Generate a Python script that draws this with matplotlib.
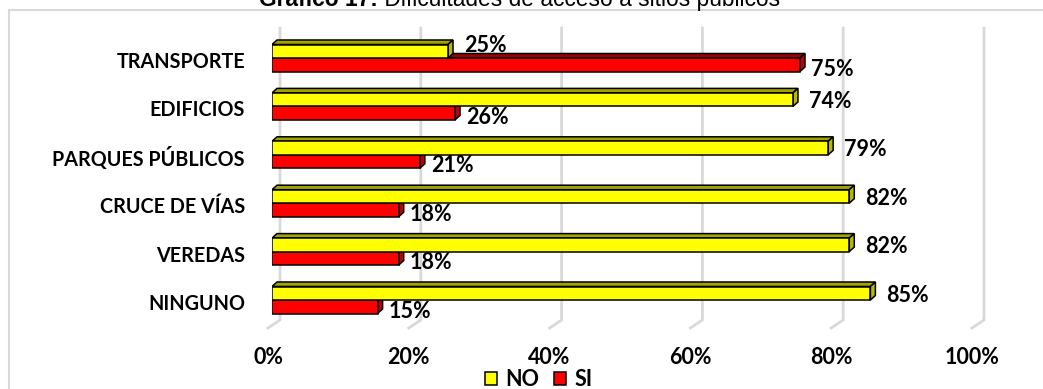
import matplotlib
matplotlib.use('Agg')
import matplotlib.pyplot as plt
from matplotlib.patches import Polygon, Rectangle, Patch

# ---------------- data ----------------
categories = ['TRANSPORTE', 'EDIFICIOS', 'PARQUES PÚBLICOS', 'CRUCE DE VÍAS', 'VEREDAS', 'NINGUNO']
no_vals = [25, 74, 79, 82, 82, 85]
si_vals = [75, 26, 21, 18, 18, 15]
xticks = [0, 20, 40, 60, 80, 100]
xtick_labels = ['0%', '20%', '40%', '60%', '80%', '100%']
series_names = ['NO', 'SI']
title_bold = 'Gráfico 17:'
title_rest = ' Dificultades de acceso a sitios públicos'

# ---------------- style ----------------
W, H, DPI = 1043, 389, 100
YEL, YEL_TOP, YEL_SIDE = '#FFFF00', '#A3A300', '#B8B800'
RED, RED_TOP, RED_SIDE = '#FF0000', '#A00000', '#C00000'
GRID = '#D9D9D9'
LFONT = 'Lato'
FS_CAT = 14.2
FS_NUM = 15.5
EW = 1.1

fig = plt.figure(figsize=(W / DPI, H / DPI), dpi=DPI)
fig.patch.set_facecolor('white')

# front plane of the plot: x 0 -> 272px, 100 -> 976px ; y from 28px to 328px
row_px = 48.4
ax = fig.add_axes([272 / W, 1 - 328 / H, 704 / W, 300 / H])
n = len(categories)
ax.set_xlim(0, 100)
ax.set_ylim(-28 / row_px, (n - 1) + 30 / row_px)
ax.axis('off')

px_x = 100 / 704.0
px_y = 1 / row_px
ylo, yhi = ax.get_ylim()

# chart border
fig.add_artist(Rectangle((9 / W, -0.2), 1.2, 1.2 - 10 / H, transform=fig.transFigure,
                         fill=False, edgecolor=GRID, lw=1.5))

# gridlines (back wall + floor diagonal)
for t in xticks:
    xb = t + 8 * px_x
    ax.plot([xb, xb, t - 4 * px_x], [yhi, -20 * px_y, ylo], color=GRID, lw=2,
            clip_on=False, zorder=0, solid_joinstyle='miter')

h = 13.5 * px_y
dx, dy = 5 * px_x, 4.5 * px_y


def bar3d(y_bottom, v, front, top, side, z):
    ax.barh(y_bottom + h / 2, v, height=h, left=0, color=front, edgecolor='black',
            lw=EW, zorder=z + 0.2)
    yt = y_bottom + h
    ax.add_patch(Polygon([(0, yt), (v, yt), (v + dx, yt + dy), (dx, yt + dy)], closed=True,
                         facecolor=top, edgecolor='black', lw=EW, zorder=z))
    ax.add_patch(Polygon([(v, y_bottom), (v + dx, y_bottom + dy), (v + dx, yt + dy), (v, yt)],
                         closed=True, facecolor=side, edgecolor='black', lw=EW, zorder=z + 0.1))


for i, cat in enumerate(categories):
    y0 = n - 1 - i
    no, si = no_vals[i], si_vals[i]
    bar3d(y0 - h, si, RED, RED_TOP, RED_SIDE, 1)
    bar3d(y0, no, YEL, YEL_TOP, YEL_SIDE, 3)
    lift = 13 if si > no else 5
    ax.annotate(f'{no}%', xy=(no, y0), xytext=(16, lift), textcoords='offset pixels',
                ha='left', va='center', fontsize=FS_NUM, fontweight='bold', family=LFONT,
                annotation_clip=False)
    ax.annotate(f'{si}%', xy=(si, y0), xytext=(11, -11), textcoords='offset pixels',
                ha='left', va='center', fontsize=FS_NUM, fontweight='bold', family=LFONT,
                annotation_clip=False)
    ax.annotate(cat, xy=(0, y0), xytext=(-27, -4), textcoords='offset pixels',
                ha='right', va='center', fontsize=FS_CAT, fontweight='bold', family=LFONT,
                annotation_clip=False)

for t, lab in zip(xticks, xtick_labels):
    ax.annotate(lab, xy=(t, ylo), xytext=(-4, -29), textcoords='offset pixels',
                ha='center', va='center', fontsize=FS_NUM, fontweight='bold', family=LFONT,
                annotation_clip=False)

# legend
handles = [Patch(facecolor=YEL, edgecolor='black', lw=EW),
           Patch(facecolor=RED, edgecolor='black', lw=EW)]
fig.legend(handles, series_names, loc='center', bbox_to_anchor=(539 / W, 1 - 380 / H),
           ncol=2, frameon=False, prop={'family': LFONT, 'weight': 'bold', 'size': FS_NUM},
           handlelength=0.55, handleheight=0.55, handletextpad=0.4, columnspacing=0.7,
           borderpad=0, borderaxespad=0)

# title (partly cut by top edge, as in the reference)
tb = fig.text(0, 1 - 6 / H, title_bold, fontsize=16.4, fontweight='bold',
              family='Liberation Sans', ha='left', va='baseline')
tr = fig.text(0, 1 - 6 / H, title_rest, fontsize=16.4, family='Liberation Sans',
              ha='left', va='baseline')
fig.canvas.draw()
r = fig.canvas.get_renderer()
wb = tb.get_window_extent(r).width
wr = tr.get_window_extent(r).width
x0 = (W / 2 - (wb + wr) / 2 - 2)
tb.set_x(x0 / W)
tr.set_x((x0 + wb) / W)

fig.savefig('out.png', dpi=DPI)
